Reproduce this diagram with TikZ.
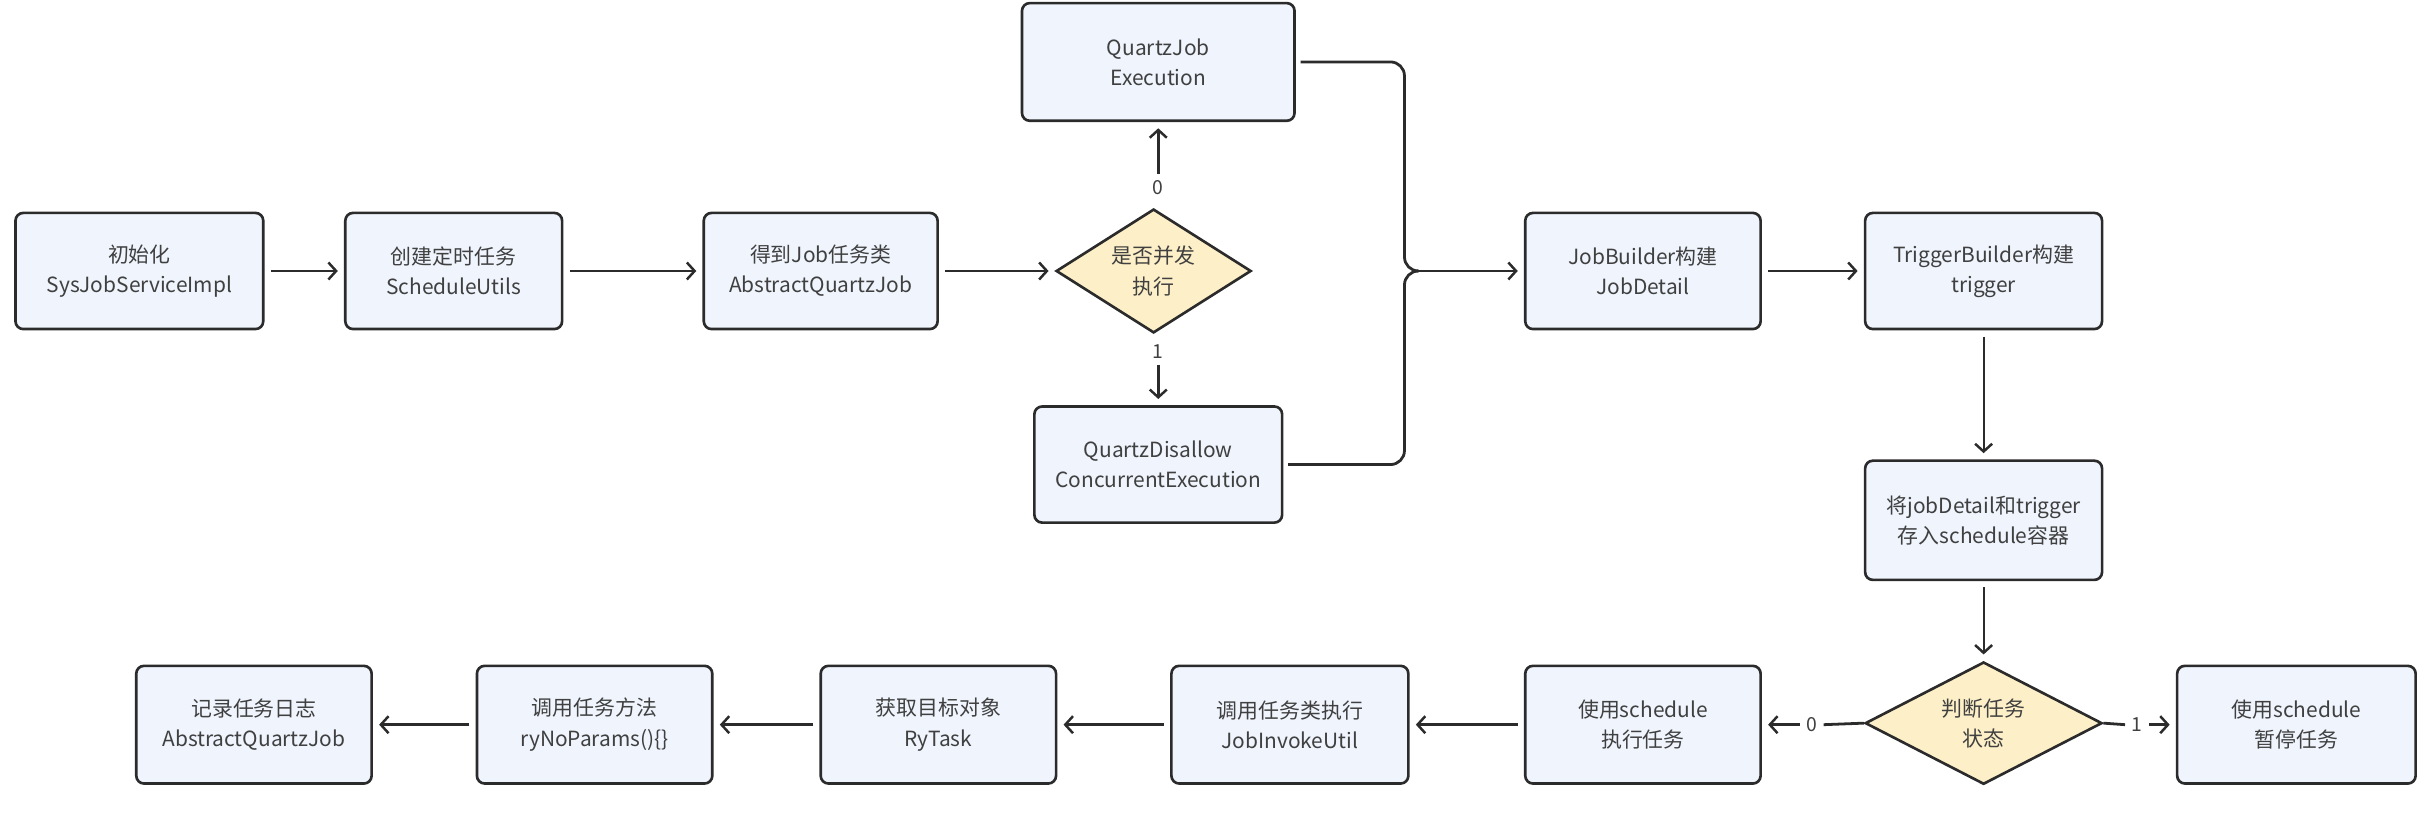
\documentclass[tikz,border=0pt]{standalone}
\usepackage{fontspec}
\setmainfont{Noto Sans CJK SC}
\usetikzlibrary{arrows.meta,shapes.geometric}
\definecolor{boxfill}{HTML}{EFF4FD}
\definecolor{dfill}{HTML}{FDF0C8}
\definecolor{edge}{HTML}{2B2B2B}
\definecolor{txt}{HTML}{404040}
\begin{document}
\begin{tikzpicture}[x=1pt,y=-1pt,
  every node/.style={font=\fontsize{13.5}{19.5}\selectfont,text=txt},
  procbox/.style={draw=edge,line width=1.7pt,fill=boxfill,rounded corners=5pt,
    minimum width=152pt,minimum height=75pt,align=center,inner sep=2pt},
  decision/.style={draw=edge,line width=1.7pt,fill=dfill,diamond,aspect=1.6,
    minimum width=126pt,minimum height=80pt,align=center,inner sep=0pt},
  flow/.style={draw=edge,line width=1.8pt,-{Straight Barb[length=5pt,width=11pt,line width=1.6pt]},shorten >=4pt,shorten <=4pt},
  plain/.style={draw=edge,line width=1.8pt},
  lab/.style={fill=white,inner sep=4pt,font=\fontsize{12.5}{14}\selectfont}
]
\useasboundingbox (0,0) rectangle (1568,525);

\node[procbox,minimum width=160pt] (b1) at (90,175) {初始化\\SysJobServiceImpl};
\node[procbox,minimum width=140pt] (b2) at (293,175) {创建定时任务\\ScheduleUtils};
\node[procbox,minimum width=151pt] (b3) at (530,175) {得到Job任务类\\AbstractQuartzJob};
\node[decision] (d1) at (745,175) {是否并发\\执行};
\node[procbox,minimum width=176pt,minimum height=76pt] (qj) at (748,40) {QuartzJob\\Execution};
\node[procbox,minimum width=160pt] (qd) at (748,300) {QuartzDisallow\\ConcurrentExecution};
\node[procbox] (jb) at (1061,175) {JobBuilder构建\\JobDetail};
\node[procbox,minimum width=153pt] (tb) at (1281,175) {TriggerBuilder构建\\trigger};
\node[procbox,minimum width=153pt,minimum height=77pt] (st) at (1281,336) {将jobDetail和trigger\\存入schedule容器};
\node[decision,minimum width=153pt,minimum height=79pt] (d2) at (1281,467) {判断任务\\状态};
\node[procbox,minimum width=154pt,minimum height=76pt] (pause) at (1483,468) {使用schedule\\暂停任务};
\node[procbox,minimum height=76pt] (exec) at (1061,468) {使用schedule\\执行任务};
\node[procbox,minimum width=153pt,minimum height=76pt] (invoke) at (833,468) {调用任务类执行\\JobInvokeUtil};
\node[procbox,minimum height=76pt] (target) at (606,468) {获取目标对象\\RyTask};
\node[procbox,minimum height=76pt] (method) at (384,468) {调用任务方法\\ryNoParams()\{\}};
\node[procbox,minimum height=76pt] (log) at (164,468) {记录任务日志\\AbstractQuartzJob};

\draw[flow] (b1) -- (b2);
\draw[flow] (b2) -- (b3);
\draw[flow] (b3) -- (d1);

\node[lab] (l0) at (748,121) {0};
\node[lab] (l1) at (748,227) {1};
\draw[flow,shorten <=0pt] (l0.north) -- (qj.south);
\draw[flow,shorten <=0pt] (l1.south) -- (qd.north);

\coordinate (j) at (915,175);
\draw[plain,rounded corners=9pt,shorten <=3pt] (qj.east) -- (907,40) -- (907,175) -- (j);
\draw[plain,rounded corners=9pt,shorten <=3pt] (qd.east) -- (907,300) -- (907,175) -- (j);
\draw[flow,shorten <=0pt] (j) -- (jb);
\draw[flow] (jb) -- (tb);
\draw[flow,line width=1.4pt] (tb) -- (st);
\draw[flow,line width=1.4pt] (st) -- (d2);

\node[lab] (r0) at (1170,468) {0};
\node[lab] (r1) at (1380,468) {1};
\draw[plain] (d2.west) -- (r0.east);
\draw[flow,shorten <=0pt] (r0.west) -- (exec.east);
\draw[plain] (d2.east) -- (r1.west);
\draw[flow,shorten <=0pt] (r1.east) -- (pause.west);

\draw[flow] (exec) -- (invoke);
\draw[flow] (invoke) -- (target);
\draw[flow] (target) -- (method);
\draw[flow] (method) -- (log);
\end{tikzpicture}
\end{document}
